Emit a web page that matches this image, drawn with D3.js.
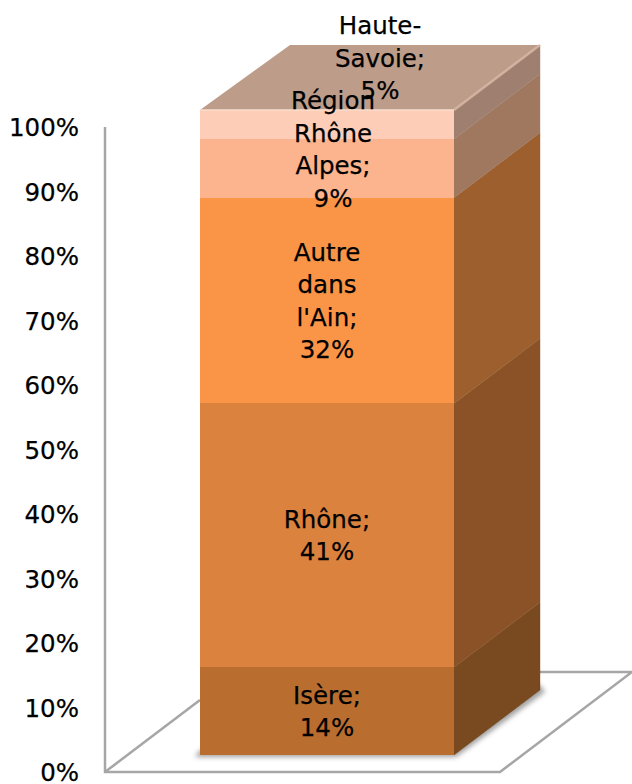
<!DOCTYPE html>
<html><head><meta charset="utf-8">
<script src="https://cdn.jsdelivr.net/npm/d3@7"></script>
<style>html,body{margin:0;padding:0;background:#fff}svg{display:block}text{font-family:"DejaVu Sans",sans-serif;fill:#000;stroke:#000;stroke-width:.25px;font-weight:400}</style>
</head><body><div id="c"></div>
<script>
const seriesNames=["Isère","Rhône","Autre dans l'Ain","Région Rhône Alpes","Haute-Savoie"];
const seriesValues=[13.6,40.9,31.9,9.1,4.5];
const seriesLabels=["14%","41%","32%","9%","5%"];
const labelLines=[["Isère;","14%"],["Rhône;","41%"],["Autre","dans","l'Ain;","32%"],["Région","Rhône","Alpes;","9%"],["Haute-","Savoie;","5%"]];
const frontColors=["#B96E30","#DB823E","#FA9548","#FBB48D","#FDCDB8"];
const sideColors=["#79491F","#8B5227","#9C5F2D","#A0785F","#9F8070"];
const topColor="#BD9C8A";
const ticks=[0,10,20,30,40,50,60,70,80,90,100];
const labelDx=[0,0,0,6,53];
const W=632,H=784;
const svg=d3.select("#c").append("svg").attr("width",W).attr("height",H);
const defs=svg.append("defs");
defs.append("filter").attr("id","sh").attr("x","-20%").attr("y","-20%").attr("width","140%").attr("height","140%")
 .append("feGaussianBlur").attr("stdDeviation",2.5);
const yWall=d3.scaleLinear().domain([0,100]).range([772,127]);
const yBar=d3.scaleLinear().domain([0,100]).range([755,110]);
const x=d3.scaleBand().domain(["total"]).range([200,454]);
const x0=x("total"),x1=x0+x.bandwidth();
const dx=86,dy=-65;
const wall="#A6A6A6";
const g=svg.append("g");
g.append("path").attr("d",`M${105},${yWall(100)}V${yWall(0)}H500L${632},${672}H${x1}`).attr("fill","none").attr("stroke",wall).attr("stroke-width",2.5);
g.append("path").attr("d",`M105,${yWall(0)}L${x0},700`).attr("fill","none").attr("stroke",wall).attr("stroke-width",2.5);
const axis=d3.axisLeft(yWall).tickValues(ticks).tickFormat(d=>d+"%").tickSize(0).tickPadding(26);
const ag=svg.append("g").attr("transform","translate(105,0)").call(axis);
ag.select(".domain").remove();
ag.selectAll("text").style("font-size","24.5px").attr("dy","0.36em");
svg.append("path").attr("d",`M${x0-5},${yBar(0)+2}H${x1+2}L${x1+dx+5},${yBar(0)+dy+2}L${x1+dx},${yBar(0)+dy-5}H${x1}V${yBar(0)-5}H${x0}Z`).attr("fill","#555").attr("opacity",.55).attr("filter","url(#sh)");
let acc=0;
const stack=seriesValues.map((v,i)=>{const s={i,a:acc,b:acc+v};acc+=v;return s;});
const bars=svg.append("g");
bars.selectAll("path.side").data(stack).join("path").attr("class","side")
 .attr("d",d=>`M${x1},${yBar(d.a)}L${x1+dx},${yBar(d.a)+dy}L${x1+dx},${yBar(d.b)+dy}L${x1},${yBar(d.b)}Z`)
 .attr("fill",d=>sideColors[d.i]).attr("stroke",d=>sideColors[d.i]).attr("stroke-width",.4);
bars.selectAll("rect.front").data(stack).join("rect").attr("class","front")
 .attr("x",x0).attr("width",x1-x0).attr("y",d=>yBar(d.b)).attr("height",d=>yBar(d.a)-yBar(d.b))
 .attr("fill",d=>frontColors[d.i]).attr("shape-rendering","crispEdges");
bars.append("path").attr("d",`M${x0},${yBar(100)}L${x0+dx+4},${yBar(100)+dy}H${x1+dx}L${x1},${yBar(100)}Z`).attr("fill",topColor);
bars.append("path").attr("d",`M${x1},${yBar(100)}L${x1+dx},${yBar(100)+dy}`).attr("stroke","#D9B8A6").attr("stroke-width",2.5).attr("fill","none").attr("opacity",.8);
bars.append("path").attr("d",`M${x0},${yBar(100)}H${x1}`).attr("stroke","#F7DCCD").attr("stroke-width",1.5).attr("fill","none");
const lh=32.5;
const lab=svg.append("g");
stack.forEach(d=>{
 const lines=labelLines[d.i];
 const mid=d.i===4?58:d.i===3?149:(yBar(d.a)+yBar(d.b))/2;
 const cx=(x0+x1)/2+labelDx[d.i];
 lines.forEach((t,k)=>{
  lab.append("text").attr("x",cx).attr("y",mid+(k-(lines.length-1)/2)*lh).attr("dy","0.36em").attr("text-anchor","middle").style("font-size","24.5px").text(t);
 });
});
</script></body></html>
